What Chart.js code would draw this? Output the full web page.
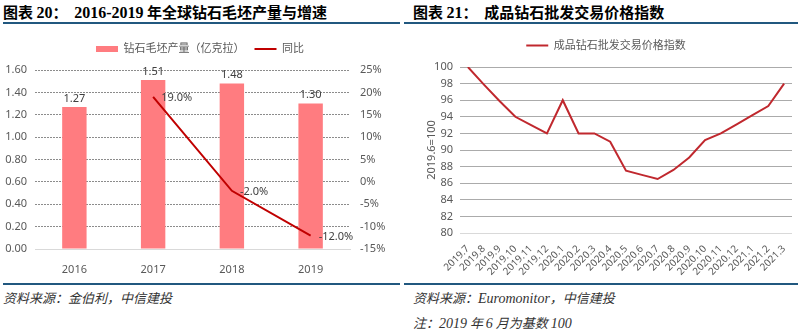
<!DOCTYPE html>
<html><head><meta charset="utf-8">
<script src="https://cdn.jsdelivr.net/npm/chart.js@4.4.1/dist/chart.umd.min.js"></script>
<style>
html,body{margin:0;padding:0;background:#fff;width:800px;height:332px;overflow:hidden;position:relative;font-family:"Noto Sans CJK SC",sans-serif;}
.title{position:absolute;top:2px;font-size:15px;font-weight:bold;color:#000;white-space:pre;line-height:20px;}
.title .n{font-family:"Liberation Serif",serif;font-size:16px;}
.rule{position:absolute;height:2px;background:#21587F;}
.src{position:absolute;font-size:13px;font-style:italic;color:#333;white-space:pre;line-height:16px;}
.src .e{font-family:"Liberation Serif",serif;font-size:14px;}
.box{position:absolute;}
</style></head><body>
<div class="title" style="left:3px;">图表 <span class="n">20</span>：  <span class="n">2016-2019</span> 年全球钻石毛坯产量与增速</div>
<div class="title" style="left:413px;">图表 <span class="n">21</span>：  成品钻石批发交易价格指数</div>
<div class="rule" style="left:3px;width:397px;top:22px;"></div>
<div class="rule" style="left:404px;width:394px;top:22px;"></div>
<div class="rule" style="left:3px;width:397px;top:283px;"></div>
<div class="rule" style="left:404px;width:394px;top:283px;"></div>
<div class="src" style="left:3px;top:290px;">资料来源：金伯利，中信建投</div>
<div class="src" style="left:413px;top:290px;">资料来源：<span class="e">Euromonitor</span>，中信建投</div>
<div class="src" style="left:413px;top:315px;">注：<span class="e">2019</span> 年 <span class="e">6</span> 月为基数 <span class="e">100</span></div>
<div class="box" style="left:0;top:30px;width:400px;height:250px;"><canvas id="c1"></canvas></div>
<div class="box" style="left:400px;top:30px;width:400px;height:250px;"><canvas id="c2"></canvas></div>
<script>
// ---- data ----
const years = ['2016','2017','2018','2019'];
const production = [1.27, 1.51, 1.48, 1.30];
const growth = [null, 19.0, -2.0, -12.0];
const leftTicks = [0,0.2,0.4,0.6,0.8,1.0,1.2,1.4,1.6];
const months = ['2019.7','2019.8','2019.9','2019.10','2019.11','2019.12','2020.1','2020.2','2020.3','2020.4','2020.5','2020.6','2020.7','2020.8','2020.9','2020.10','2020.11','2020.12','2021.1','2021.2','2021.3'];
const priceIndex = [100, 97.9, 95.9, 94.0, 93.0, 92.0, 96.0, 92.0, 92.0, 91.0, 87.5, 87.0, 86.5, 87.6, 89.1, 91.2, 92.0, 93.1, 94.2, 95.3, 98.0];

const FONT = '"Noto Sans","Noto Sans CJK SC",sans-serif';
const TXT = '#595959';
Chart.defaults.font.family = FONT;
Chart.defaults.color = TXT;
Chart.defaults.animation = false;

function legendExtra(px){
  return {id:'legendExtra', beforeInit(chart){
    const orig = chart.legend.fit;
    chart.legend.fit = function(){ orig.call(this); this.height += px; };
  }};
}

const labelPlugin = {
  id:'labels1',
  afterDatasetsDraw(chart){
    const ctx = chart.ctx;
    ctx.save();
    ctx.font = '11px ' + FONT;
    ctx.fillStyle = '#404040';
    const m0 = chart.getDatasetMeta(0);
    ctx.textAlign = 'center'; ctx.textBaseline = 'bottom';
    m0.data.forEach((el,i)=>{ ctx.fillText(production[i].toFixed(2), el.x, el.y - 3); });
    const m1 = chart.getDatasetMeta(1);
    ctx.textAlign = 'left'; ctx.textBaseline = 'middle';
    m1.data.forEach((el,i)=>{ if(growth[i]!==null) ctx.fillText(growth[i].toFixed(1)+'%', el.x + 8, el.y + 1); });
    ctx.restore();
  }
};

new Chart(document.getElementById('c1'), {
  data:{
    labels: years,
    datasets:[
      {type:'bar', label:'钻石毛坯产量（亿克拉）', data: production, backgroundColor:'#FF7C80', borderWidth:0,
       yAxisID:'y', order:2, categoryPercentage:1, barPercentage:0.31, pointStyle:'rect'},
      {type:'line', label:'同比', data: growth, borderColor:'#C00000', backgroundColor:'#C00000', borderWidth:2,
       pointRadius:0, yAxisID:'y1', order:1, pointStyle:'line', tension:0}
    ]
  },
  options:{
    responsive:true, maintainAspectRatio:false,
    layout:{padding:{top:3.5,left:0,right:0,bottom:0}},
    plugins:{
      legend:{position:'top', labels:{usePointStyle:true, pointStyleWidth:22, boxHeight:6, padding:10, font:{size:11}, color:TXT,
        sort:(a,b)=>a.datasetIndex-b.datasetIndex}},
      tooltip:{enabled:false}
    },
    scales:{
      x:{grid:{display:false}, border:{display:true,color:'#D9D9D9'}, ticks:{font:{size:11},color:TXT,padding:6},
         afterFit(s){s.height=31;}},
      y:{position:'left', min:0, max:1.6, afterBuildTicks(s){s.ticks = leftTicks.map(v=>({value:v}));},
         ticks:{font:{size:11},color:TXT,padding:8,callback:v=>Number(v).toFixed(2)},
         grid:{drawTicks:false, color:(c)=>c.tick && c.tick.value===0 ? 'rgba(0,0,0,0)' : '#8C8C8C', lineWidth:1},
         border:{display:false, dash:[2,1]},
         afterFit(s){s.width=35;}},
      y1:{position:'right', min:-15, max:25, ticks:{stepSize:5,font:{size:11},color:TXT,padding:10,callback:v=>v+'%'},
         grid:{display:false, drawTicks:false}, border:{display:false},
         afterFit(s){s.width=50;}}
    }
  },
  plugins:[labelPlugin, legendExtra(5.5)]
});

new Chart(document.getElementById('c2'), {
  type:'line',
  data:{
    labels: months,
    datasets:[{label:'成品钻石批发交易价格指数', data: priceIndex, borderColor:'#C0282E', backgroundColor:'#C0282E',
      borderWidth:2, pointRadius:0, tension:0, pointStyle:'line'}]
  },
  options:{
    responsive:true, maintainAspectRatio:false,
    layout:{padding:{top:0,left:20,right:8,bottom:0}},
    plugins:{
      legend:{position:'top', labels:{usePointStyle:true, pointStyleWidth:22, boxHeight:6, padding:10, font:{size:11}, color:TXT}},
      tooltip:{enabled:false}
    },
    scales:{
      x:{offset:true, grid:{display:false}, border:{display:false},
         ticks:{font:{size:10},color:TXT,maxRotation:45,minRotation:45,autoSkip:false,padding:2},
         afterFit(s){s.height=47;}},
      y:{min:80, max:100, ticks:{stepSize:2,font:{size:11},color:TXT,padding:7},
         grid:{drawTicks:false, color:(c)=>c.tick && c.tick.value===80 ? '#D9D9D9' : '#ABABAB', lineWidth:1},
         border:{display:false},
         title:{display:true, text:'2019.6=100', font:{size:11}, color:TXT, padding:{top:5,bottom:4}},
         afterFit(s){s.width=40;}}
    }
  },
  plugins:[legendExtra(6)]
});
</script>
</body></html>
